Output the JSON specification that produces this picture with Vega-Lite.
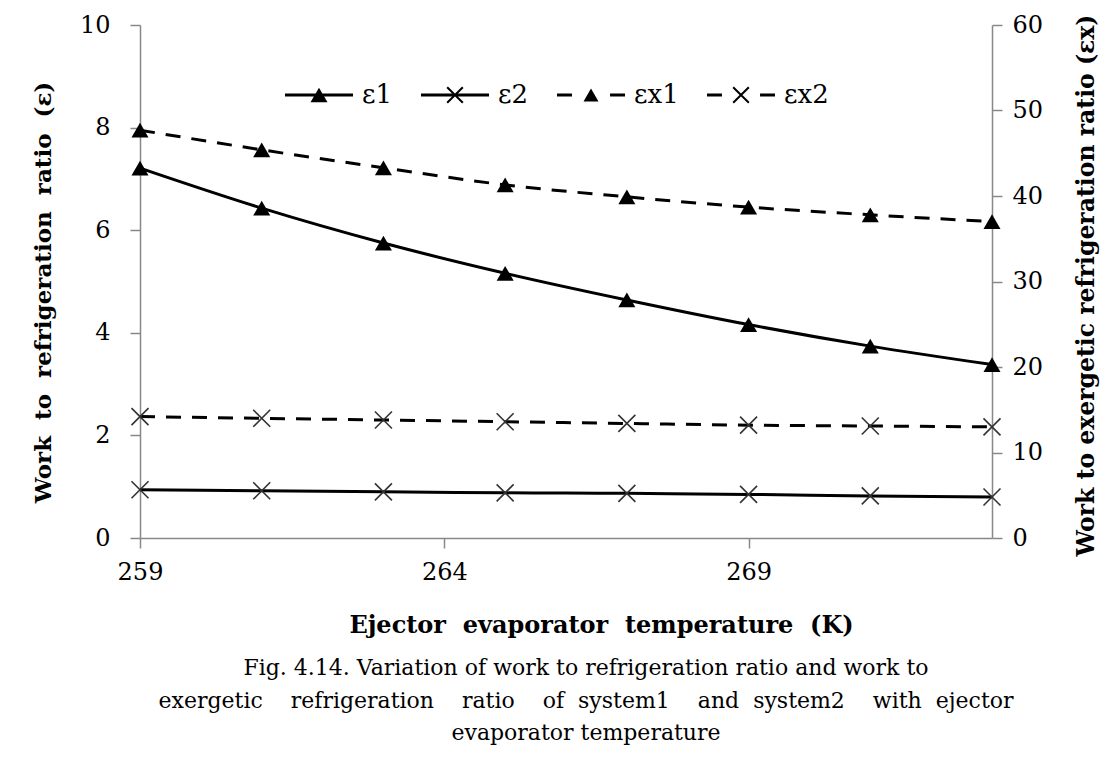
{
  "$schema": "https://vega.github.io/schema/vega-lite/v6.json",
  "width": 852,
  "height": 513,
  "autosize": "none",
  "padding": {"left": 140, "top": 25, "right": 116, "bottom": 234},
  "background": "white",
  "config": {
    "view": {"stroke": null},
    "font": "DejaVu Serif",
    "axis": {
      "labelFont": "DejaVu Serif",
      "labelFontSize": 24,
      "labelColor": "black",
      "titleFont": "DejaVu Serif",
      "titleFontSize": 23.5,
      "titleFontWeight": "bold",
      "titleColor": "black",
      "domainColor": "#888888",
      "domainWidth": 1.5,
      "tickColor": "#888888",
      "tickWidth": 1.5,
      "tickSize": 10,
      "grid": false,
      "labelFlush": false,
      "labelOverlap": false
    }
  },
  "title": {
    "text": [
      "Fig. 4.14. Variation of work to refrigeration ratio and work to",
      "exergetic\u00a0\u00a0\u00a0 refrigeration\u00a0\u00a0\u00a0 ratio\u00a0\u00a0\u00a0 of\u00a0 system1\u00a0\u00a0\u00a0 and\u00a0 system2\u00a0\u00a0\u00a0 with\u00a0 ejector",
      "evaporator temperature"
    ],
    "orient": "bottom",
    "anchor": "middle",
    "frame": "group",
    "font": "DejaVu Serif",
    "fontSize": 22,
    "fontWeight": "normal",
    "color": "black",
    "lineHeight": 32.5,
    "offset": 21,
    "dx": 20
  },
  "data": {
    "values": [
      {"T": 259, "ε1": 7.21, "ε2": 0.94, "εx1": 47.7, "εx2": 14.2},
      {"T": 261, "ε1": 6.43, "ε2": 0.92, "εx1": 45.4, "εx2": 14.0},
      {"T": 263, "ε1": 5.75, "ε2": 0.90, "εx1": 43.3, "εx2": 13.8},
      {"T": 265, "ε1": 5.16, "ε2": 0.88, "εx1": 41.3, "εx2": 13.6},
      {"T": 267, "ε1": 4.64, "ε2": 0.87, "εx1": 39.9, "εx2": 13.4},
      {"T": 269, "ε1": 4.16, "ε2": 0.85, "εx1": 38.7, "εx2": 13.2},
      {"T": 271, "ε1": 3.74, "ε2": 0.82, "εx1": 37.8, "εx2": 13.1},
      {"T": 273, "ε1": 3.38, "ε2": 0.80, "εx1": 37.0, "εx2": 13.0}
    ]
  },
  "transform": [{"fold": ["ε1", "ε2", "εx1", "εx2"], "as": ["series", "value"]}],
  "encoding": {
    "x": {
      "field": "T",
      "type": "quantitative",
      "scale": {"domain": [259, 273], "nice": false, "zero": false},
      "axis": {
        "values": [259, 264, 269],
        "title": "Ejector\u00a0 evaporator\u00a0 temperature\u00a0 (K)",
        "titleFontSize": 24,
        "titleX": 461,
        "titleY": 87,
        "titleAlign": "center",
        "titleBaseline": "middle",
        "labelPadding": 12
      }
    }
  },
  "layer": [
    {
      "encoding": {
        "y": {
          "field": "value",
          "type": "quantitative",
          "scale": {"domain": [0, 10], "nice": false},
          "axis": {
            "orient": "left",
            "values": [0, 2, 4, 6, 8, 10],
            "title": "Work\u00a0 to\u00a0 refrigeration\u00a0 ratio\u00a0 (ε)",
            "titleFontSize": 23,
            "titleAngle": 270,
            "titleX": -97,
            "titleY": 267,
            "titleAlign": "center",
            "titleBaseline": "middle",
            "labelPadding": 20
          }
        }
      },
      "layer": [
        {
          "transform": [{"filter": "datum.series === 'ε1' || datum.series === 'ε2'"}],
          "mark": {"type": "line", "color": "black", "strokeWidth": 3, "interpolate": "monotone"},
          "encoding": {"detail": {"field": "series"}}
        },
        {
          "transform": [{"filter": "datum.series === 'ε1'"}],
          "mark": {"type": "point", "shape": "triangle-up", "size": 290, "filled": true, "color": "black", "opacity": 1}
        },
        {
          "transform": [{"filter": "datum.series === 'ε2'"}],
          "mark": {"type": "point", "shape": "M-1,-1L1,1M1,-1L-1,1", "size": 289, "filled": false, "color": "#333333", "strokeWidth": 1.6, "opacity": 1}
        }
      ]
    },
    {
      "encoding": {
        "y": {
          "field": "value",
          "type": "quantitative",
          "scale": {"domain": [0, 60], "nice": false},
          "axis": {
            "orient": "right",
            "values": [0, 10, 20, 30, 40, 50, 60],
            "title": "Work to exergetic refrigeration ratio (εx)",
            "titleAngle": 270,
            "titleX": 94,
            "titleY": 260,
            "titleAlign": "center",
            "titleBaseline": "middle",
            "labelPadding": 10
          }
        }
      },
      "layer": [
        {
          "transform": [{"filter": "datum.series === 'εx1' || datum.series === 'εx2'"}],
          "mark": {"type": "line", "color": "black", "strokeWidth": 3, "strokeDash": [15, 11], "interpolate": "monotone"},
          "encoding": {"detail": {"field": "series"}}
        },
        {
          "transform": [{"filter": "datum.series === 'εx1'"}],
          "mark": {"type": "point", "shape": "triangle-up", "size": 290, "filled": true, "color": "black", "opacity": 1}
        },
        {
          "transform": [{"filter": "datum.series === 'εx2'"}],
          "mark": {"type": "point", "shape": "M-1,-1L1,1M1,-1L-1,1", "size": 289, "filled": false, "color": "#333333", "strokeWidth": 1.6, "opacity": 1}
        }
      ]
    },
    {
      "transform": [{"filter": "datum.T === 259"}],
      "mark": {"type": "point", "filled": true, "color": "black", "opacity": 0},
      "encoding": {
        "shape": {
          "field": "series",
          "type": "nominal",
          "scale": {
            "domain": ["ε1", "ε2", "εx1", "εx2"],
            "range": [
              "M-1,-0.044H1V0.044H-1Z M-0.25,0.21L0,-0.21L0.25,0.21Z",
              "M-1,-0.044H1V0.044H-1Z M-0.209,-0.251L0.251,0.209L0.209,0.251L-0.251,-0.209Z M0.251,-0.209L-0.209,0.251L-0.251,0.209L0.209,-0.251Z",
              "M-1,-0.044H-0.56V0.044H-1Z M0.56,-0.044H1V0.044H0.56Z M-0.22,0.19L0,-0.19L0.22,0.19Z",
              "M-1,-0.044H-0.56V0.044H-1Z M0.56,-0.044H1V0.044H0.56Z M-0.209,-0.251L0.251,0.209L0.209,0.251L-0.251,-0.209Z M0.251,-0.209L-0.209,0.251L-0.251,0.209L0.209,-0.251Z"
            ]
          },
          "legend": {
            "orient": "none",
            "legendX": 145,
            "legendY": 36,
            "direction": "horizontal",
            "columns": 4,
            "title": null,
            "padding": 0,
            "symbolSize": 4624,
            "symbolOpacity": 1,
            "symbolFillColor": "black",
            "symbolStrokeWidth": 0,
            "labelFont": "DejaVu Serif",
            "labelFontSize": 26,
            "labelColor": "black",
            "labelOffset": 9,
            "columnPadding": 28
          }
        }
      }
    }
  ],
  "resolve": {"scale": {"y": "independent"}}
}
